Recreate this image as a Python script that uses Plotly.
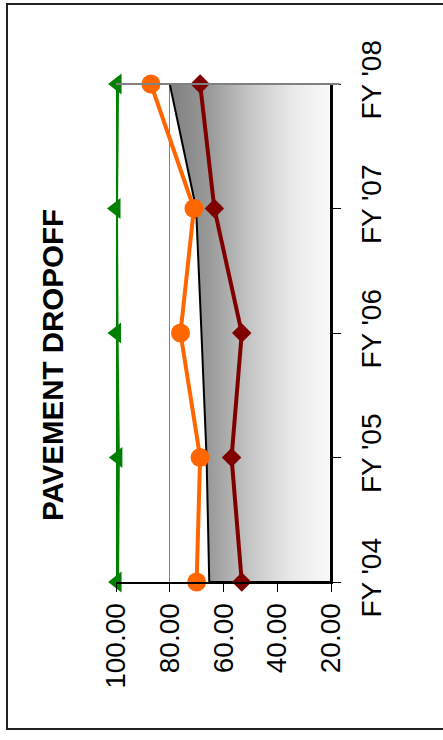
import plotly.graph_objects as go

categories = ["FY '04", "FY '05", "FY '06", "FY '07", "FY '08"]
target = [65.3, 66.3, 68.2, 70.2, 80.0]
dark_red = [53.2, 57.0, 53.2, 63.4, 68.7]
orange = [70.0, 68.7, 76.0, 71.0, 87.0]
green = [99.6, 99.3, 99.8, 100.0, 99.6]
value_ticks = [100, 80, 60, 40, 20]
axis_min = 20
axis_max = 100

pos = list(range(len(categories)))
FONT = "Liberation Sans, Arial, sans-serif"

fig = go.Figure()

# shaded target area (closed polygon from the target line to the axis minimum)
area_x = target + [axis_min, axis_min, target[0]]
area_y = pos + [pos[-1], pos[0], pos[0]]
fig.add_trace(go.Scatter(
    x=area_x, y=area_y, mode="lines", fill="toself",
    line=dict(color="black", width=2),
    fillgradient=dict(type="horizontal", start=80, stop=20,
                      colorscale=[[0, "#7f7f7f"], [0.25, "#9a9a9a"], [0.5, "#c6c6c6"],
                                  [0.75, "#e8e8e8"], [1, "#fafafa"]]),
    hoverinfo="skip", showlegend=False, cliponaxis=False))

fig.add_trace(go.Scatter(
    x=dark_red, y=pos, mode="lines+markers",
    line=dict(color="#800000", width=4),
    marker=dict(symbol="diamond", size=15, color="#800000"),
    showlegend=False, cliponaxis=False))

fig.add_trace(go.Scatter(
    x=orange, y=pos, mode="lines+markers",
    line=dict(color="#FF6600", width=4),
    marker=dict(symbol="circle", size=19, color="#FF6600"),
    showlegend=False, cliponaxis=False))

fig.add_trace(go.Scatter(
    x=green, y=pos, mode="lines+markers",
    line=dict(color="#008000", width=4),
    marker=dict(symbol="triangle-left", size=18, color="#008000"),
    showlegend=False, cliponaxis=False))

fig.update_layout(
    width=443, height=740,
    margin=dict(l=116, r=112, t=84, b=158),
    paper_bgcolor="white", plot_bgcolor="white",
    font=dict(family=FONT, color="black"),
    xaxis=dict(range=[axis_max, axis_min], tickvals=value_ticks,
               tickformat=".2f", tickangle=-90,
               tickfont=dict(size=28, family=FONT),
               showgrid=True, gridcolor="#808080", gridwidth=1,
               showline=True, linecolor="black", linewidth=2,
               ticks="outside", ticklen=8, tickcolor="black", tickwidth=1,
               zeroline=False),
    yaxis=dict(range=[pos[0], pos[-1]], tickvals=pos, ticktext=categories,
               side="right", tickangle=-90,
               tickfont=dict(size=28, family=FONT),
               ticklabelstandoff=6,
               showgrid=False,
               showline=True, linecolor="black", linewidth=2,
               ticks="outside", ticklen=8, tickcolor="black", tickwidth=1,
               zeroline=False),
    shapes=[
        dict(type="line", xref="paper", yref="paper", x0=0, x1=1.04, y0=1, y1=1,
             line=dict(color="#808080", width=2), layer="above"),
        dict(type="rect", xref="paper", yref="paper",
             x0=-0.507, x1=1.56, y0=-0.2952, y1=1.1606,
             line=dict(color="#222222", width=2), layer="below"),
    ],
    annotations=[
        dict(text="<b>PAVEMENT DROPOFF</b>", xref="paper", yref="paper",
             x=-0.2977, y=0.4357, xanchor="center", yanchor="middle",
             textangle=-90, showarrow=False,
             font=dict(size=29.5, family=FONT, color="black")),
    ],
)

fig.write_html("out.html",
               config={"displayModeBar": False},
               post_script="document.body.style.margin='0';document.body.style.padding='0';document.body.style.overflow='hidden';")
